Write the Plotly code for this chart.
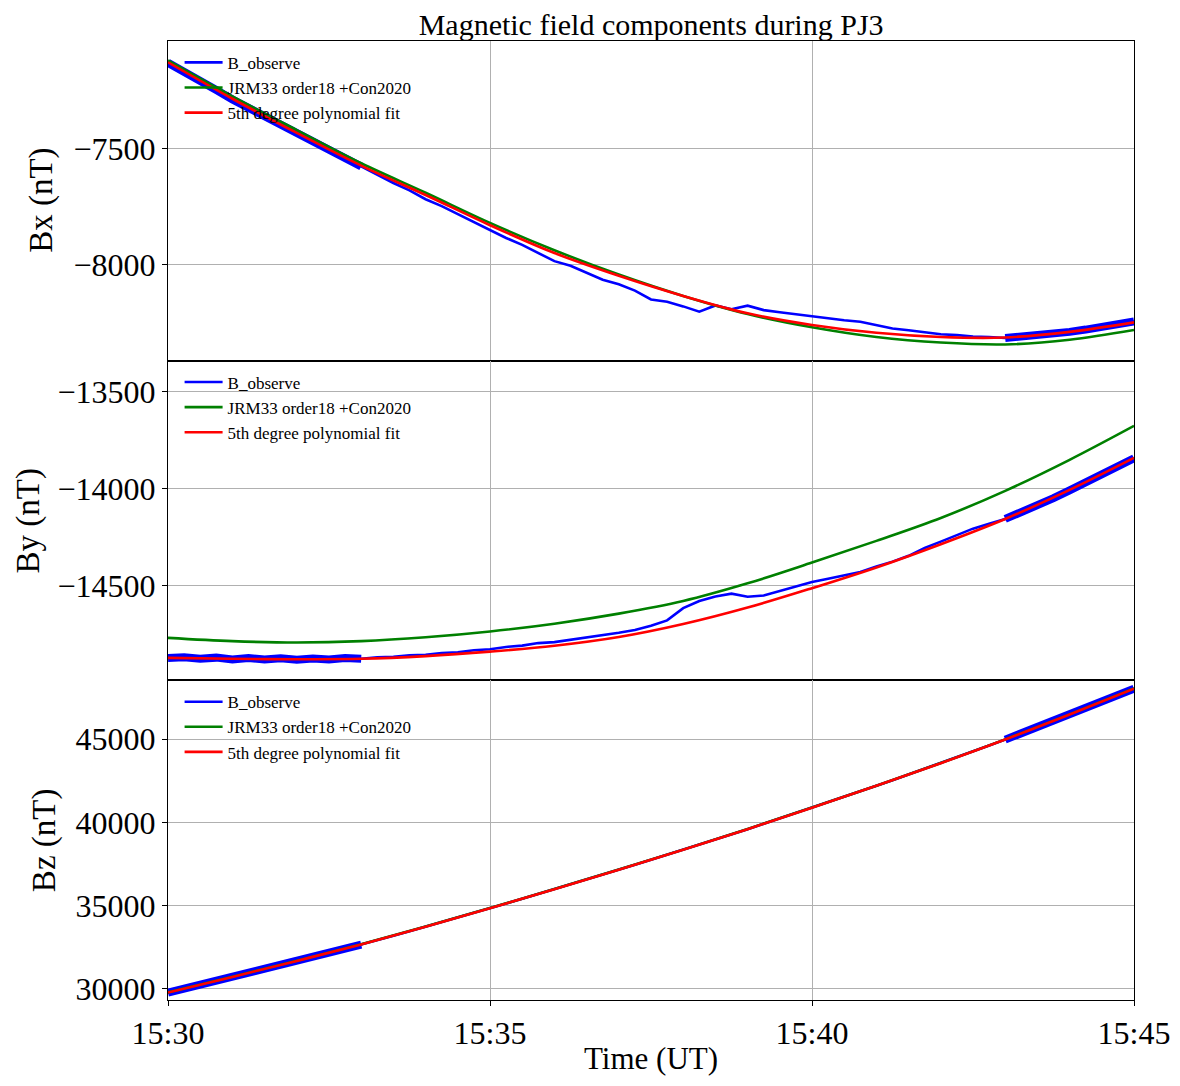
import pandas as pd
import plotly.graph_objects as go
from plotly.subplots import make_subplots

DAY = "2016-12-11"

# ---------------- data ----------------
# smooth curves sampled once per minute, 15:30 ... 15:45
minute_times = pd.date_range(f"{DAY} 15:30", f"{DAY} 15:45", freq="1min")
# observations sampled every 15 s, 15:30 ... 15:45
obs_times = pd.date_range(f"{DAY} 15:30", f"{DAY} 15:45", freq="15s")

bx_model = [-7120, -7275, -7420, -7563, -7690, -7820, -7938, -8043, -8135,
            -8213, -8270, -8312, -8336, -8344, -8324, -8282]
bx_fit = [-7128, -7285, -7432, -7573, -7700, -7830, -7950, -8048, -8135,
          -8210, -8260, -8294, -8312, -8314, -8290, -8249]
bx_obs = [-7130, -7167, -7208, -7247, -7288, -7324, -7361, -7397, -7435, -7471,
          -7507, -7541, -7577, -7615, -7648, -7680, -7718, -7748, -7782, -7815,
          -7850, -7885, -7915, -7950, -7985, -8005, -8035, -8065, -8085, -8112,
          -8150, -8160, -8180, -8203, -8176, -8192, -8177, -8196, -8205, -8214,
          -8222, -8230, -8240, -8246, -8262, -8275, -8283, -8292, -8300, -8304,
          -8310, -8312, -8316, -8311, -8306, -8298, -8290, -8280, -8270, -8257,
          -8245]

by_model = [-14768, -14785, -14792, -14785, -14765, -14735, -14695, -14643,
            -14578, -14487, -14380, -14268, -14150, -14010, -13850, -13675]
by_fit = [-14871, -14876, -14878, -14876, -14862, -14839, -14809, -14764,
          -14697, -14612, -14512, -14405, -14285, -14155, -14005, -13840]
by_obs = [-14872, -14868, -14876, -14870, -14879, -14872, -14880, -14873, -14881,
          -14874, -14879, -14872, -14876, -14868, -14866, -14858, -14855, -14846,
          -14843, -14832, -14827, -14815, -14808, -14795, -14790, -14778, -14765,
          -14756, -14742, -14728, -14706, -14678, -14615, -14578, -14555, -14540,
          -14556, -14550, -14528, -14502, -14480, -14463, -14446, -14428, -14400,
          -14375, -14345, -14305, -14272, -14240, -14205, -14180, -14155, -14122,
          -14090, -14048, -14008, -13966, -13925, -13882, -13842]

bz_model = [29790, 30730, 31690, 32680, 33740, 34850, 35990, 37160, 38360,
            39600, 40890, 42200, 43560, 44980, 46480, 48030]
bz_fit = [29780, 30720, 31680, 32670, 33730, 34840, 35980, 37150, 38350,
          39590, 40880, 42190, 43550, 44970, 46470, 48020]
bz_obs = [29770, 30005, 30240, 30475, 30712, 30950, 31190, 31430, 31672, 31918,
          32165, 32412, 32660, 32925, 33190, 33460, 33730, 34005, 34285, 34560,
          34840, 35125, 35410, 35695, 35980, 36270, 36565, 36855, 37150, 37450,
          37750, 38050, 38350, 38660, 38970, 39280, 39590, 39910, 40230, 40555,
          40880, 41205, 41535, 41860, 42190, 42530, 42870, 43210, 43550, 43905,
          44260, 44615, 44965, 45340, 45715, 46090, 46465, 46855, 47245, 47635,
          48015]

# windows used for the polynomial fit (highlighted observations)
fit_windows = [("15:30:00", "15:33:00"), ("15:43:00", "15:45:00")]

x_tick_labels = ["15:30", "15:35", "15:40", "15:45"]
bx_ticks = [-7500, -8000]
by_ticks = [-13500, -14000, -14500]
bz_ticks = [30000, 35000, 40000, 45000]

panels = [
    ("Bx (nT)", bx_obs, bx_model, bx_fit, bx_ticks, [-8414, -7036], -0.1304),
    ("By (nT)", by_obs, by_model, by_fit, by_ticks, [-14987, -13339], -0.1440),
    ("Bz (nT)", bz_obs, bz_model, bz_fit, bz_ticks, [29333, 48523], -0.1284),
]

names = ["B_observe", "JRM33 order18 +Con2020", "5th degree polynomial fit"]

# ---------------- figure ----------------
SERIF = "Liberation Serif"
fig = make_subplots(rows=3, cols=1, shared_xaxes=True, vertical_spacing=0)

obs_series = pd.Series(range(len(obs_times)), index=obs_times)
annotations = []

for i, (ylab, obs, model, fit, ticks, yr, lab_x) in enumerate(panels):
    row = i + 1
    leg = "legend" if i == 0 else f"legend{i + 1}"
    fig.add_trace(go.Scatter(x=obs_times, y=obs, mode="lines", name=names[0],
                             line=dict(color="#0000ff", width=2.6),
                             legend=leg), row=row, col=1)
    for (a, b) in fit_windows:
        idx = obs_series[pd.Timestamp(f"{DAY} {a}"):pd.Timestamp(f"{DAY} {b}")].values
        fig.add_trace(go.Scatter(x=obs_times[idx], y=[obs[k] for k in idx],
                                 mode="lines", showlegend=False,
                                 line=dict(color="#0000ff", width=8),
                                 legend=leg), row=row, col=1)
    fig.add_trace(go.Scatter(x=minute_times, y=model, mode="lines", name=names[1],
                             line=dict(color="#008000", width=2.6, shape="spline"),
                             legend=leg), row=row, col=1)
    fig.add_trace(go.Scatter(x=minute_times, y=fit, mode="lines", name=names[2],
                             line=dict(color="#ff0000", width=2.6, shape="spline"),
                             legend=leg), row=row, col=1)

    fig.update_yaxes(row=row, col=1, range=yr, tickvals=ticks,
                     ticktext=[str(v).replace("-", "\u2212") for v in ticks],
                     tickfont=dict(family=SERIF, size=32, color="black"),
                     ticks="outside", ticklen=5, tickcolor="black",
                     showline=True, linecolor="black", linewidth=1, mirror=True,
                     showgrid=True, gridcolor="#b0b0b0", gridwidth=1,
                     zeroline=False)
    # y-axis title, centred on its panel
    annotations.append(dict(text=ylab, textangle=-90, xref="paper", yref="paper",
                            x=lab_x, y=1 - (i + 0.5) / 3, xanchor="center",
                            yanchor="middle", showarrow=False,
                            font=dict(family=SERIF, size=33, color="black")))

annotations.append(dict(text="Time (UT)", xref="paper", yref="paper", x=0.5,
                        y=-0.0615, xanchor="center", yanchor="middle", showarrow=False,
                        font=dict(family=SERIF, size=31, color="black")))

x_tickvals = [f"{DAY} {t}" for t in x_tick_labels]
for row in (1, 2, 3):
    fig.update_xaxes(row=row, col=1,
                     range=[f"{DAY} 15:30", f"{DAY} 15:45"],
                     tickvals=x_tickvals, ticktext=x_tick_labels,
                     showline=True, linecolor="black", linewidth=1, mirror=True,
                     showgrid=True, gridcolor="#b0b0b0", gridwidth=1,
                     zeroline=False,
                     ticks="outside" if row == 3 else "", ticklen=5,
                     tickcolor="black",
                     tickfont=dict(family=SERIF, size=32, color="black"))

leg_style = dict(x=0.012, xanchor="left", yanchor="top", bgcolor="rgba(0,0,0,0)",
                 borderwidth=0, font=dict(family=SERIF, size=17, color="black"),
                 tracegroupgap=0, itemwidth=38)
fig.update_layout(
    width=1164, height=1070,
    margin=dict(l=160, r=38, t=33, b=78, autoexpand=False),
    paper_bgcolor="white", plot_bgcolor="white",
    title=dict(text="Magnetic field components during PJ3", x=0.5525, xanchor="center",
               y=0.985, yanchor="middle",
               font=dict(family=SERIF, size=30, color="black")),
    showlegend=True,
    legend=dict(y=1 - 0.004, **leg_style),
    legend2=dict(y=2 / 3 - 0.004, **leg_style),
    legend3=dict(y=1 / 3 - 0.004, **leg_style),
    annotations=annotations,
)

fig.write_html("out.html")
